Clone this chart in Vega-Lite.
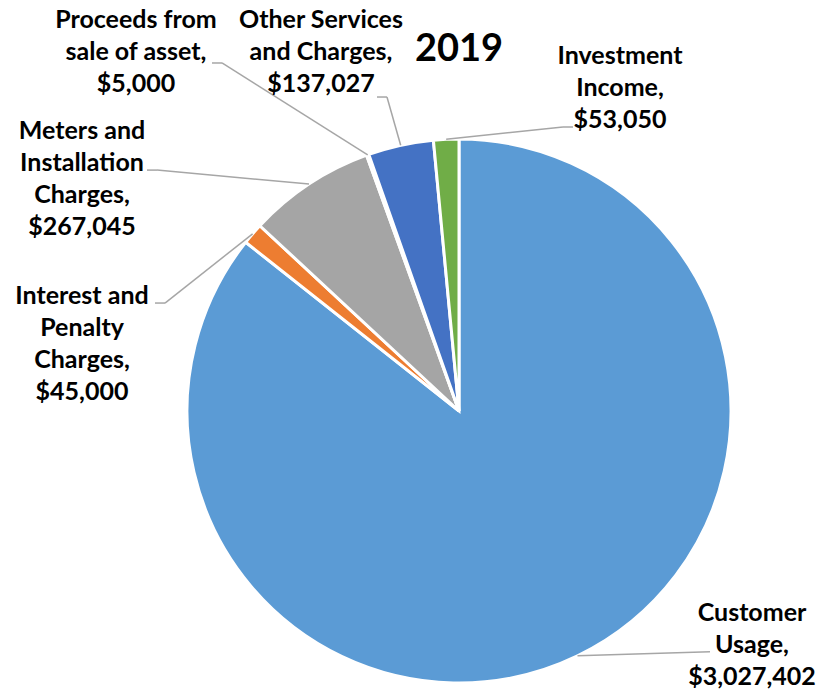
{
  "$schema": "https://vega.github.io/schema/vega-lite/v6.json",
  "autosize": "none",
  "width": 734,
  "height": 562,
  "padding": {"left": 92, "top": 130, "right": 0, "bottom": 0},
  "background": "white",
  "config": {"view": {"stroke": null}},
  "title": {"text": "2019", "font": "Lato", "fontSize": 38, "fontWeight": "bold", "color": "black", "anchor": "middle", "frame": "group", "baseline": "alphabetic", "offset": -91},
  "data": {"values": [
    {"category": "Customer Usage", "labelLines": "Customer\nUsage,", "amount": 3027402},
    {"category": "Interest and Penalty Charges", "labelLines": "Interest and\nPenalty\nCharges,", "amount": 45000},
    {"category": "Meters and Installation Charges", "labelLines": "Meters and\nInstallation\nCharges,", "amount": 267045},
    {"category": "Proceeds from sale of asset", "labelLines": "Proceeds from\nsale of asset,", "amount": 5000},
    {"category": "Other Services and Charges", "labelLines": "Other Services\nand Charges,", "amount": 137027},
    {"category": "Investment Income", "labelLines": "Investment\nIncome,", "amount": 53050}
  ]},
  "transform": [
    {"window": [{"op": "row_number", "as": "rank"}]},
    {"window": [{"op": "sum", "field": "amount", "as": "cum"}], "frame": [null, 0]},
    {"joinaggregate": [{"op": "sum", "field": "amount", "as": "total"}]},
    {"calculate": "2 * PI * (datum.cum - datum.amount / 2) / datum.total", "as": "mid"},
    {"calculate": "sin(datum.mid)", "as": "px"},
    {"calculate": "cos(datum.mid)", "as": "py"},
    {"calculate": "datum.labelLines + '\\n' + format(datum.amount, '$,')", "as": "label"}
  ],
  "layer": [
    {
      "mark": {"type": "arc", "outerRadius": 272, "stroke": "white", "strokeWidth": 3},
      "encoding": {
        "theta": {"field": "amount", "type": "quantitative", "stack": true},
        "order": {"field": "rank", "type": "quantitative"},
        "color": {
          "field": "category", "type": "nominal", "legend": null,
          "scale": {
            "domain": ["Customer Usage", "Interest and Penalty Charges", "Meters and Installation Charges", "Proceeds from sale of asset", "Other Services and Charges", "Investment Income"],
            "range": ["#5B9BD5", "#ED7D31", "#A5A5A5", "#FFC000", "#4472C4", "#70AD47"]
          }
        }
      }
    },
    {
      "encoding": {
        "x": {"field": "px", "type": "quantitative", "axis": null, "scale": {"domain": [-1.34926, 1.34926], "nice": false, "zero": false}},
        "y": {"field": "py", "type": "quantitative", "axis": null, "scale": {"domain": [-1.03309, 1.03309], "nice": false, "zero": false}}
      },
      "layer": [
        {"transform": [{"filter": "datum.category === 'Customer Usage'"}],
         "mark": {"type": "rule", "color": "#A6A6A6", "strokeWidth": 1.5, "x2Offset": 132.5, "y2Offset": -4},
         "encoding": {"x2": {"field": "px"}, "y2": {"field": "py"}}},
        {"transform": [{"filter": "datum.category === 'Interest and Penalty Charges'"}],
         "mark": {"type": "rule", "color": "#A6A6A6", "strokeWidth": 1.5, "x2Offset": -87.6, "y2Offset": 69.2},
         "encoding": {"x2": {"field": "px"}, "y2": {"field": "py"}}},
        {"transform": [{"filter": "datum.category === 'Interest and Penalty Charges'"}],
         "mark": {"type": "rule", "color": "#A6A6A6", "strokeWidth": 1.5, "xOffset": -87.6, "yOffset": 69.2, "x2Offset": -97.6, "y2Offset": 69.2},
         "encoding": {"x2": {"field": "px"}, "y2": {"field": "py"}}},
        {"transform": [{"filter": "datum.category === 'Meters and Installation Charges'"}],
         "mark": {"type": "rule", "color": "#A6A6A6", "strokeWidth": 1.5, "x2Offset": -152, "y2Offset": -14},
         "encoding": {"x2": {"field": "px"}, "y2": {"field": "py"}}},
        {"transform": [{"filter": "datum.category === 'Meters and Installation Charges'"}],
         "mark": {"type": "rule", "color": "#A6A6A6", "strokeWidth": 1.5, "xOffset": -152, "yOffset": -14, "x2Offset": -162, "y2Offset": -14},
         "encoding": {"x2": {"field": "px"}, "y2": {"field": "py"}}},
        {"transform": [{"filter": "datum.category === 'Proceeds from sale of asset'"}],
         "mark": {"type": "rule", "color": "#A6A6A6", "strokeWidth": 1.5, "x2Offset": -145.7, "y2Offset": -91.8},
         "encoding": {"x2": {"field": "px"}, "y2": {"field": "py"}}},
        {"transform": [{"filter": "datum.category === 'Proceeds from sale of asset'"}],
         "mark": {"type": "rule", "color": "#A6A6A6", "strokeWidth": 1.5, "xOffset": -145.7, "yOffset": -91.8, "x2Offset": -155.7, "y2Offset": -91.8},
         "encoding": {"x2": {"field": "px"}, "y2": {"field": "py"}}},
        {"transform": [{"filter": "datum.category === 'Other Services and Charges'"}],
         "mark": {"type": "rule", "color": "#A6A6A6", "strokeWidth": 1.5, "x2Offset": -13.7, "y2Offset": -48.3},
         "encoding": {"x2": {"field": "px"}, "y2": {"field": "py"}}},
        {"transform": [{"filter": "datum.category === 'Other Services and Charges'"}],
         "mark": {"type": "rule", "color": "#A6A6A6", "strokeWidth": 1.5, "xOffset": -13.7, "yOffset": -48.3, "x2Offset": -23.7, "y2Offset": -48.3},
         "encoding": {"x2": {"field": "px"}, "y2": {"field": "py"}}},
        {"transform": [{"filter": "datum.category === 'Investment Income'"}],
         "mark": {"type": "rule", "color": "#A6A6A6", "strokeWidth": 1.5, "x2Offset": 116.8, "y2Offset": -12.3},
         "encoding": {"x2": {"field": "px"}, "y2": {"field": "py"}}},
        {"transform": [{"filter": "datum.category === 'Investment Income'"}],
         "mark": {"type": "rule", "color": "#A6A6A6", "strokeWidth": 1.5, "xOffset": 116.8, "yOffset": -12.3, "x2Offset": 126.8, "y2Offset": -12.3},
         "encoding": {"x2": {"field": "px"}, "y2": {"field": "py"}}},
        {"transform": [{"filter": "datum.category === 'Customer Usage'"}],
         "mark": {"type": "text", "font": "Lato", "fontSize": 25, "fontWeight": "bold", "color": "black", "lineBreak": "\n", "lineHeight": 32, "align": "center", "baseline": "middle", "xOffset": 174.5, "yOffset": -42.8},
         "encoding": {"text": {"field": "label"}}},
        {"transform": [{"filter": "datum.category === 'Interest and Penalty Charges'"}],
         "mark": {"type": "text", "font": "Lato", "fontSize": 25, "fontWeight": "bold", "color": "black", "lineBreak": "\n", "lineHeight": 32, "align": "center", "baseline": "middle", "xOffset": -170.6, "yOffset": 62.2},
         "encoding": {"text": {"field": "label"}}},
        {"transform": [{"filter": "datum.category === 'Meters and Installation Charges'"}],
         "mark": {"type": "text", "font": "Lato", "fontSize": 25, "fontWeight": "bold", "color": "black", "lineBreak": "\n", "lineHeight": 32, "align": "center", "baseline": "middle", "xOffset": -227, "yOffset": -53.6},
         "encoding": {"text": {"field": "label"}}},
        {"transform": [{"filter": "datum.category === 'Proceeds from sale of asset'"}],
         "mark": {"type": "text", "font": "Lato", "fontSize": 25, "fontWeight": "bold", "color": "black", "lineBreak": "\n", "lineHeight": 32, "align": "center", "baseline": "middle", "xOffset": -231.7, "yOffset": -134.8},
         "encoding": {"text": {"field": "label"}}},
        {"transform": [{"filter": "datum.category === 'Other Services and Charges'"}],
         "mark": {"type": "text", "font": "Lato", "fontSize": 25, "fontWeight": "bold", "color": "black", "lineBreak": "\n", "lineHeight": 32, "align": "center", "baseline": "middle", "xOffset": -79.7, "yOffset": -125.3},
         "encoding": {"text": {"field": "label"}}},
        {"transform": [{"filter": "datum.category === 'Investment Income'"}],
         "mark": {"type": "text", "font": "Lato", "fontSize": 25, "fontWeight": "bold", "color": "black", "lineBreak": "\n", "lineHeight": 32, "align": "center", "baseline": "middle", "xOffset": 173.8, "yOffset": -83.3},
         "encoding": {"text": {"field": "label"}}}
      ]
    }
  ]
}
